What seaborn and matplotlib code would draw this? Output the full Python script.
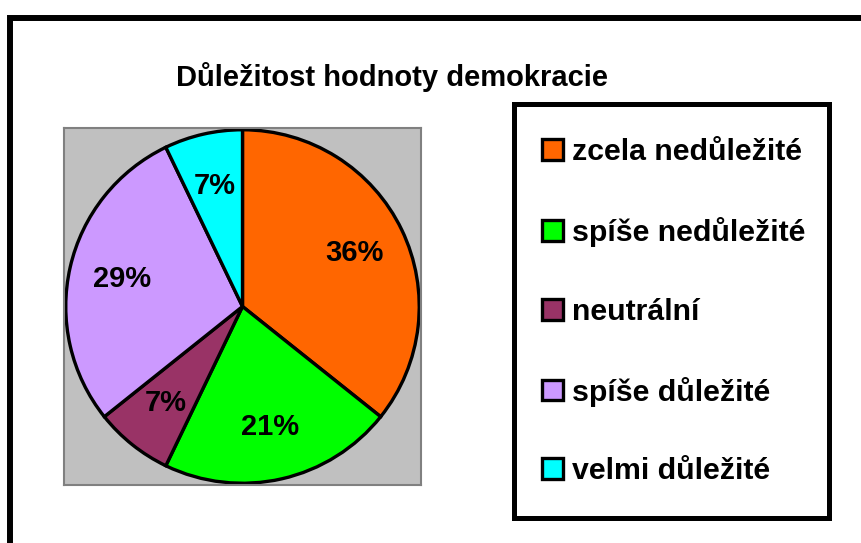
import matplotlib
matplotlib.use("Agg")
import matplotlib.pyplot as plt
from matplotlib.patches import Rectangle
import seaborn as sns

# odpovedi respondentu (pocty), procenta se dopocitaji v grafu
categories = ["zcela nedůležité", "spíše nedůležité", "neutrální",
              "spíše důležité", "velmi důležité"]
counts = [5, 3, 1, 4, 1]
colors = ["#FF6600", "#00FF00", "#993366", "#CC99FF", "#00FFFF"]
title = "Důležitost hodnoty demokracie"

sns.set_style("white")
plt.rcParams["font.family"] = ["Liberation Sans", "DejaVu Sans"]
plt.rcParams["text.color"] = "black"

W, H = 862, 543
fig = plt.figure(figsize=(W / 100, H / 100), dpi=100)

# outer frame, cut off at right and bottom like the screenshot
fig.patches.append(Rectangle((10 / W, -0.1), 1.2, 1.1 - 17.5 / H,
                             transform=fig.transFigure, fill=False,
                             edgecolor="black", linewidth=4.3))

ax = fig.add_axes([64 / W, 1 - 487 / H, 357 / W, 361 / H])
wedges, texts, autotexts = ax.pie(
    counts, colors=sns.color_palette(colors), startangle=90, counterclock=False,
    radius=1, autopct="%1.0f%%", pctdistance=0.7,
    wedgeprops=dict(edgecolor="black", linewidth=2.4),
    textprops=dict(fontsize=21, fontweight="bold", color="black"))
ax.set_xlim(-1.01, 1.01)
ax.set_ylim(-1.01, 1.01)
ax.set_frame_on(True)
ax.set_facecolor("#C0C0C0")
for sp in ax.spines.values():
    sp.set_color("#808080")
    sp.set_linewidth(1.5)

fig.text(392 / W, 1 - 77 / H, title, ha="center", va="center",
         fontsize=21, fontweight="bold", color="black")

# legend frame
fig.patches.append(Rectangle((514 / W, 1 - 518 / H), 315 / W, 414 / H,
                             transform=fig.transFigure, fill=False,
                             edgecolor="black", linewidth=3.6))
leg = fig.legend(wedges, categories, loc="upper left",
                 bbox_to_anchor=(542 / W, 1 - 138 / H), frameon=False,
                 borderpad=0, borderaxespad=0, handlelength=0.68,
                 handleheight=0.68, handletextpad=0.3, labelspacing=1.68,
                 prop=dict(size=21.8, weight="bold"))
for t in leg.get_texts():
    t.set_color("black")

fig.savefig("out.png", dpi=100)
